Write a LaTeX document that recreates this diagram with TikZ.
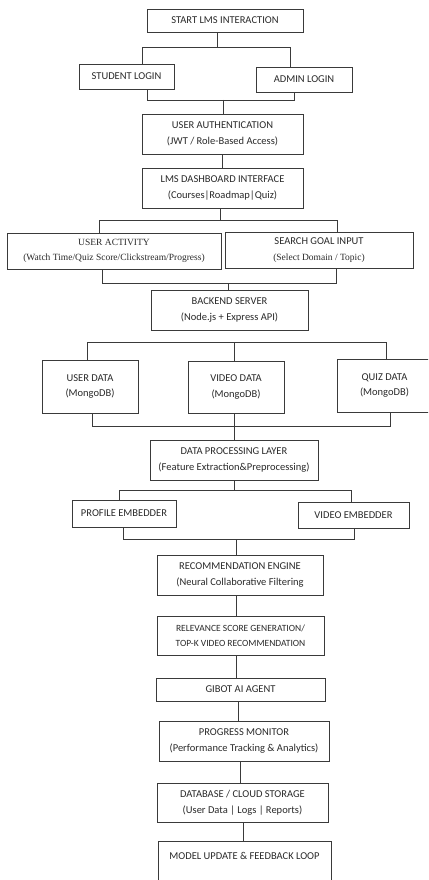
\documentclass[tikz,border=0pt]{standalone}
\usepackage{fontspec}
\setmainfont{Carlito}
\newfontfamily\tms{Liberation Serif}
\definecolor{ink}{HTML}{2A2A2A}
\definecolor{edge}{HTML}{3A3A3A}
\tikzset{
  box/.style={draw=edge, line width=0.9pt, fill=white, text=ink, align=center, inner sep=0pt,
    font=\fontsize{10.5}{15.5}\selectfont},
  wire/.style={draw=edge, line width=0.9pt},
}
\begin{document}
\begin{tikzpicture}[x=1pt,y=-1pt]
\useasboundingbox (0,0) rectangle (428,880);
\clip (0,0) rectangle (428,880);
\fill[white] (0,0) rectangle (428,880);

% nodes
\node[box, minimum width=156, minimum height=23] (start) at (225,20.5) {START LMS INTERACTION};
\node[box, minimum width=95, minimum height=25] (student) at (126.5,76.5) {STUDENT LOGIN};
\node[box, minimum width=96, minimum height=25] (admin) at (304,79.5) {ADMIN LOGIN};
\node[box, minimum width=161, minimum height=40] (auth) at (222.5,134) {USER AUTHENTICATION\\(JWT / Role-Based Access)};
\node[box, minimum width=161, minimum height=40] (dash) at (222.5,188) {LMS DASHBOARD INTERFACE\\(Courses|Roadmap|Quiz)};
\node[box, minimum width=214, minimum height=36, font=\tms\fontsize{9.5}{15}\selectfont] (activity) at (114,251) {USER ACTIVITY\\(Watch Time/Quiz Score/Clickstream/Progress)};
\node[box, minimum width=188, minimum height=36] (search) at (319,250) {SEARCH GOAL INPUT\\{\tms\fontsize{9.5}{11}\selectfont (Select Domain / Topic)}};
\node[box, minimum width=157, minimum height=40] (backend) at (229.5,310) {BACKEND SERVER\\(Node.js + Express API)};
\node[box, minimum width=96, minimum height=53] (userdata) at (90,386.5) {USER DATA\\(MongoDB)};
\node[box, minimum width=96, minimum height=52] (videodata) at (236,387) {VIDEO DATA\\(MongoDB)};
\node[box, minimum width=95, minimum height=53] (quizdata) at (384.5,385.5) {QUIZ DATA\\(MongoDB)};
\node[box, minimum width=168, minimum height=40] (dpl) at (234,460) {DATA PROCESSING LAYER\\(Feature Extraction\&Preprocessing)};
\node[box, minimum width=104, minimum height=27] (profile) at (124,513.5) {PROFILE EMBEDDER};
\node[box, minimum width=111, minimum height=26] (vemb) at (353.5,515) {VIDEO EMBEDDER};
\node[box, minimum width=166, minimum height=40] (reng) at (240,575) {RECOMMENDATION ENGINE\\(Neural Collaborative Filtering};
\node[box, minimum width=167, minimum height=39, font=\fontsize{9.5}{14.5}\selectfont] (relev) at (240.5,635.5) {RELEVANCE SCORE GENERATION/\\TOP-K VIDEO RECOMMENDATION};
\node[box, minimum width=169, minimum height=23] (gibot) at (240.5,689.5) {GIBOT AI AGENT};
\node[box, minimum width=170, minimum height=40] (progress) at (244,741) {PROGRESS MONITOR\\(Performance Tracking \& Analytics)};
\node[box, minimum width=171, minimum height=39] (database) at (242.5,802.5) {DATABASE / CLOUD STORAGE\\(User Data | Logs | Reports)};
\node[box, minimum width=173, anchor=north, text height=14, text depth=22, inner ysep=4pt] (model) at (244.5,841) {MODEL UPDATE \& FEEDBACK LOOP};

% junction coordinates
\coordinate (s1) at (217,47);  \coordinate (s1l) at (142,47);  \coordinate (s1r) at (290,47);
\coordinate (s2) at (223,100); \coordinate (s2l) at (147,100); \coordinate (s2r) at (294,100);
\coordinate (s3) at (220,220); \coordinate (s3l) at (99,220);  \coordinate (s3r) at (337,220);
\coordinate (s4) at (228,283); \coordinate (s4l) at (102,283); \coordinate (s4r) at (336,283);
\coordinate (s5m) at (234,342); \coordinate (s5l) at (87,342); \coordinate (s5r) at (386,342);
\coordinate (s6m) at (234,426); \coordinate (s6l) at (92,426); \coordinate (s6r) at (390,426);
\coordinate (s7) at (234,490); \coordinate (s7l) at (119,490); \coordinate (s7r) at (351,490);
\coordinate (s8) at (236,539); \coordinate (s8l) at (123,539); \coordinate (s8r) at (354,539);
\coordinate (c1) at (236,0); \coordinate (c2) at (238,0); \coordinate (c3) at (240,0); \coordinate (c4) at (243,0);

% connectors
\draw[wire] (s1 |- start.south) -- (s1);
\draw[wire] (s1l |- student.north) -- (s1l) -- (s1r) -- (s1r |- admin.north);
\draw[wire] (s2l |- student.south) -- (s2l) -- (s2r) -- (s2r |- admin.south);
\draw[wire] (s2) -- (s2 |- auth.north);
\draw[wire] (auth.south) -- (dash.north);
\draw[wire] (s3 |- dash.south) -- (s3);
\draw[wire] (s3l |- activity.north) -- (s3l) -- (s3r) -- (s3r |- search.north);
\draw[wire] (s4l |- activity.south) -- (s4l) -- (s4r) -- (s4r |- search.south);
\draw[wire] (s4) -- (s4 |- backend.north);
\draw[wire] (s5l |- userdata.north) -- (s5l) -- (s5r) -- (s5r |- quizdata.north);
\draw[wire] (s5m) -- (s5m |- videodata.north);
\draw[wire] (s6l |- userdata.south) -- (s6l) -- (s6r) -- (s6r |- quizdata.south);
\draw[wire] (s6m |- videodata.south) -- (s6m |- dpl.north);
\draw[wire] (s7 |- dpl.south) -- (s7);
\draw[wire] (s7l |- profile.north) -- (s7l) -- (s7r) -- (s7r |- vemb.north);
\draw[wire] (s8l |- profile.south) -- (s8l) -- (s8r) -- (s8r |- vemb.south);
\draw[wire] (s8) -- (s8 |- reng.north);
\draw[wire] (c1 |- reng.south) -- (c1 |- relev.north);
\draw[wire] (c1 |- relev.south) -- (c1 |- gibot.north);
\draw[wire] (c2 |- gibot.south) -- (c2 |- progress.north);
\draw[wire] (c3 |- progress.south) -- (c3 |- database.north);
\draw[wire] (c4 |- database.south) -- (c4 |- model.north);
\end{tikzpicture}
\end{document}
